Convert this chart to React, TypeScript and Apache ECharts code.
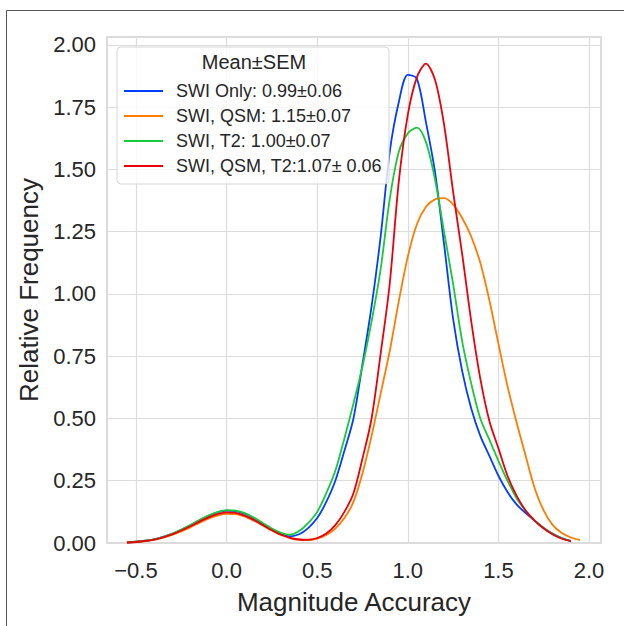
import React, { useEffect, useRef } from "react";
import * as echarts from "echarts";

const xs = [
  -0.55, -0.5, -0.45, -0.4, -0.35, -0.3, -0.25, -0.2, -0.15, -0.1, -0.05, 0, 0.05, 0.1, 0.15, 0.2,
  0.25, 0.3, 0.35, 0.4, 0.45, 0.5, 0.55, 0.6, 0.65, 0.7, 0.75, 0.8, 0.85, 0.9, 0.95, 1.0, 1.05,
  1.1, 1.15, 1.2, 1.25, 1.3, 1.35, 1.4, 1.45, 1.5, 1.55, 1.6, 1.65, 1.7, 1.75, 1.8, 1.85, 1.9, 1.95,
];

const swiOnly = [
  0.002, 0.005, 0.009, 0.015, 0.025, 0.037, 0.053, 0.071, 0.091, 0.109, 0.123, 0.13, 0.128, 0.118, 0.1, 0.077,
  0.054, 0.036, 0.027, 0.035, 0.06, 0.1, 0.165, 0.25, 0.37, 0.5, 0.72, 0.95, 1.23, 1.57, 1.77, 1.88, 1.865,
  1.69, 1.49, 1.2, 0.9, 0.69, 0.54, 0.43, 0.35, 0.27, 0.205, 0.155, 0.12, 0.09, 0.06, 0.037, 0.02, 0.009, null,
];

const swiQsm = [
  0.002, 0.004, 0.008, 0.013, 0.022, 0.033, 0.047, 0.063, 0.081, 0.098, 0.11, 0.117, 0.116, 0.106, 0.09, 0.07,
  0.05, 0.032, 0.02, 0.013, 0.012, 0.018, 0.032, 0.058, 0.1, 0.165, 0.28, 0.43, 0.6, 0.77, 0.97, 1.15, 1.28,
  1.35, 1.38, 1.385, 1.36, 1.305, 1.23, 1.125, 0.975, 0.8, 0.63, 0.485, 0.35, 0.22, 0.13, 0.072, 0.04, 0.022, 0.012,
];

const swiT2 = [
  0.002, 0.005, 0.009, 0.015, 0.025, 0.038, 0.054, 0.072, 0.092, 0.11, 0.124, 0.132, 0.13, 0.12, 0.102, 0.08,
  0.058, 0.041, 0.033, 0.048, 0.08, 0.125, 0.2, 0.29, 0.42, 0.56, 0.71, 0.89, 1.1, 1.38, 1.57, 1.645, 1.668,
  1.61, 1.46, 1.25, 1.04, 0.81, 0.64, 0.5, 0.415, 0.33, 0.25, 0.18, 0.13, 0.09, 0.06, 0.036, 0.019, 0.008, null,
];

const swiQsmT2 = [
  0.002, 0.004, 0.008, 0.014, 0.023, 0.035, 0.05, 0.067, 0.086, 0.103, 0.116, 0.123, 0.121, 0.11, 0.093, 0.072,
  0.051, 0.033, 0.021, 0.014, 0.013, 0.02, 0.038, 0.072, 0.125, 0.2, 0.34, 0.5, 0.76, 1.04, 1.45, 1.72, 1.87,
  1.925, 1.86, 1.68, 1.41, 1.16, 0.89, 0.66, 0.49, 0.38, 0.27, 0.19, 0.13, 0.09, 0.058, 0.034, 0.017, 0.007, null,
];

const seriesNames = [
  "SWI Only: 0.99±0.06",
  "SWI, QSM: 1.15±0.07",
  "SWI, T2: 1.00±0.07",
  "SWI, QSM, T2:1.07± 0.06",
];
const seriesColors = ["#023eff", "#ff7c00", "#1ac938", "#e8000b"];
const seriesValues = [swiOnly, swiQsm, swiT2, swiQsmT2];

const xTicks = [-0.5, 0, 0.5, 1.0, 1.5, 2.0];
const xTickLabels = ["\u22120.5", "0.0", "0.5", "1.0", "1.5", "2.0"];
const yTicks = [0, 0.25, 0.5, 0.75, 1.0, 1.25, 1.5, 1.75, 2.0];
const yTickLabels = ["0.00", "0.25", "0.50", "0.75", "1.00", "1.25", "1.50", "1.75", "2.00"];

const legendTitle = "Mean±SEM";
const xName = "Magnitude Accuracy";
const yName = "Relative Frequency";

const FONT = "'Liberation Sans', Arial, Helvetica, sans-serif";
const TEXT = "#262626";

function lookup(ticks: number[], labels: string[], v: number) {
  for (let i = 0; i < ticks.length; i++) {
    if (Math.abs(ticks[i] - v) < 1e-6) return labels[i];
  }
  return "";
}

export default function App() {
  const ref = useRef<HTMLDivElement>(null);

  useEffect(() => {
    if (!ref.current) return;
    const chart = echarts.init(ref.current, undefined, { renderer: "svg" });

    const series = seriesNames.map((name, k) => ({
      name,
      type: "line",
      showSymbol: false,
      symbol: "none",
      smooth: 0.3,
      color: seriesColors[k],
      lineStyle: { width: 1.8, color: seriesColors[k] },
      data: xs
        .map((x, i) => [x, seriesValues[k][i]])
        .filter((p) => p[1] !== null),
    }));

    chart.setOption({
      animation: false,
      textStyle: { fontFamily: FONT },
      grid: {
        left: 107,
        top: 37,
        right: 23,
        bottom: 83,
        show: true,
        borderColor: "#d0d0d0",
        borderWidth: 1.5,
      },
      xAxis: {
        type: "value",
        min: -0.66,
        max: 2.066,
        splitNumber: 5,
        axisLine: { show: false },
        axisTick: { show: false },
        axisLabel: {
          fontSize: 22,
          color: TEXT,
          margin: 16,
          formatter: (v: number) => lookup(xTicks, xTickLabels, v),
        },
        splitLine: { lineStyle: { color: "#dcdcdc", width: 1.2 } },
        name: xName,
        nameLocation: "middle",
        nameGap: 46,
        nameTextStyle: { fontSize: 26, color: TEXT },
      },
      yAxis: {
        type: "value",
        min: 0,
        max: 2.032,
        interval: 0.25,
        axisLine: { show: false },
        axisTick: { show: false },
        axisLabel: {
          fontSize: 22,
          color: TEXT,
          margin: 11,
          formatter: (v: number) => lookup(yTicks, yTickLabels, v),
        },
        splitLine: { lineStyle: { color: "#dcdcdc", width: 1.2 } },
        name: yName,
        nameLocation: "middle",
        nameGap: 61,
        nameTextStyle: { fontSize: 26, color: TEXT },
      },
      legend: {
        orient: "vertical",
        left: 117,
        top: 47,
        padding: [35, 7, 9, 6],
        itemWidth: 39,
        itemHeight: 18,
        itemGap: 7,
        itemStyle: { opacity: 0 },
        lineStyle: { width: 2 },
        backgroundColor: "rgba(255,255,255,0.8)",
        borderColor: "#d6d6d6",
        borderWidth: 1,
        borderRadius: 4,
        textStyle: { fontSize: 18, color: TEXT, padding: [0, 0, 0, 8] },
        data: seriesNames,
      },
      graphic: [
        {
          type: "text",
          x: 254,
          y: 62,
          z: 100,
          style: {
            text: legendTitle,
            fontSize: 20,
            fontFamily: FONT,
            fill: TEXT,
            align: "center",
            verticalAlign: "middle",
          },
        },
        {
          type: "line",
          z: 100,
          shape: { x1: 6.5, y1: 10.5, x2: 624, y2: 10.5 },
          style: { stroke: "#555555", lineWidth: 1 },
        },
        {
          type: "line",
          z: 100,
          shape: { x1: 6.5, y1: 10.5, x2: 6.5, y2: 626 },
          style: { stroke: "#555555", lineWidth: 1 },
        },
      ],
      series,
    });

    return () => chart.dispose();
  }, []);

  return (
    <div
      ref={ref}
      style={{ position: "absolute", left: 0, top: 0, width: 624, height: 626, background: "#fff" }}
    />
  );
}
